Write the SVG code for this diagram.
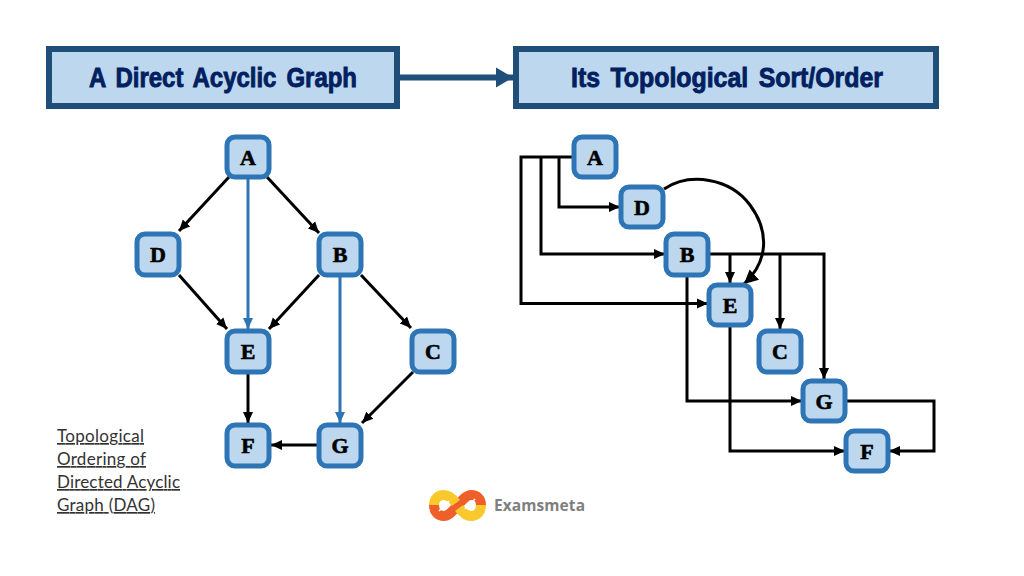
<svg xmlns="http://www.w3.org/2000/svg" width="1024" height="576" viewBox="0 0 1024 576">
<style>
.hbox{fill:#bdd7ee;stroke:#1f4e79;stroke-width:6}
.htext{font-family:"Liberation Sans",Arial,sans-serif;font-weight:700;font-size:28px;word-spacing:4px;fill:#002060;stroke:#002060;stroke-width:.9;text-anchor:middle}
.nbox{fill:#bdd7ee;stroke:#2e75b6;stroke-width:5}
.ntext{font-family:"Liberation Serif",serif;font-weight:700;font-size:22px;fill:#000;stroke:#000;stroke-width:.6;text-anchor:middle}
.k{fill:none;stroke:#000;stroke-width:3}
.b{fill:none;stroke:#2e75b6;stroke-width:3}
.cap{font-family:Lato,"Open Sans",sans-serif;font-size:17px;fill:#333;text-decoration:underline;text-decoration-thickness:1px}
</style>
<defs>
<marker id="mk" markerUnits="userSpaceOnUse" markerWidth="12" markerHeight="12" refX="11" refY="6" orient="auto"><path d="M0,1 L11,6 L0,11 Z" fill="#000"/></marker>
<marker id="mk2" markerUnits="userSpaceOnUse" markerWidth="16" markerHeight="16" refX="14" refY="8" orient="auto"><path d="M0,1 L14,8 L0,15 Z" fill="#000"/></marker>
<marker id="mb" markerUnits="userSpaceOnUse" markerWidth="12" markerHeight="12" refX="11" refY="6" orient="auto"><path d="M0,1 L11,6 L0,11 Z" fill="#2e75b6"/></marker>
<marker id="mh" markerUnits="userSpaceOnUse" markerWidth="18" markerHeight="22" refX="17" refY="11" orient="auto"><path d="M0,1 L17,11 L0,21 Z" fill="#1f4e79"/></marker>
</defs>
<g id="connectors">
<path d="M400,77.500H513" fill="none" stroke="#1f4e79" stroke-width="6" marker-end="url(#mh)"/>
<path class="k" d="M229,177L179,231" marker-end="url(#mk)"/>
<path class="k" d="M267,177L319,233" marker-end="url(#mk)"/>
<path class="b" d="M248,179V329" marker-end="url(#mb)"/>
<path class="k" d="M179,275L227,329" marker-end="url(#mk)"/>
<path class="k" d="M319,275L269,329" marker-end="url(#mk)"/>
<path class="b" d="M340,276V423" marker-end="url(#mb)"/>
<path class="k" d="M361,275L411,328" marker-end="url(#mk)"/>
<path class="k" d="M248,373V423" marker-end="url(#mk)"/>
<path class="k" d="M413,372L362,423" marker-end="url(#mk)"/>
<path class="k" d="M318,445H271" marker-end="url(#mk)"/>
<path class="k" d="M573,157H521V303.500H708" marker-end="url(#mk)"/>
<path class="k" d="M541,157V254H665" marker-end="url(#mk)"/>
<path class="k" d="M559,157V207H620" marker-end="url(#mk)"/>
<path class="k" d="M664,189C690,172 730,178 750,205C770,232 768,262 744,284" marker-end="url(#mk2)"/>
<path class="k" d="M709,254H824V379" marker-end="url(#mk)"/>
<path class="k" d="M730,254V283" marker-end="url(#mk)"/>
<path class="k" d="M780,254V329" marker-end="url(#mk)"/>
<path class="k" d="M687,276V401H802" marker-end="url(#mk)"/>
<path class="k" d="M730,327V451H845" marker-end="url(#mk)"/>
<path class="k" d="M846,401H934V451H889" marker-end="url(#mk)"/>
</g>
<g id="header-left"><rect class="hbox" x="49" y="49" width="348" height="57"/><text class="htext" x="223" y="87" textLength="268" lengthAdjust="spacingAndGlyphs">A Direct Acyclic Graph</text></g>
<g id="header-right"><rect class="hbox" x="516" y="49" width="420" height="57"/><text class="htext" x="727" y="87" textLength="312" lengthAdjust="spacingAndGlyphs">Its Topological Sort/Order</text></g>
<g id="L-A"><rect class="nbox" x="227" y="137" width="42" height="40" rx="8"/><text class="ntext" x="248" y="165">A</text></g>
<g id="L-D"><rect class="nbox" x="137" y="234" width="42" height="41" rx="8"/><text class="ntext" x="158" y="262">D</text></g>
<g id="L-B"><rect class="nbox" x="319" y="234" width="42" height="41" rx="8"/><text class="ntext" x="340" y="262">B</text></g>
<g id="L-E"><rect class="nbox" x="227" y="331" width="42" height="41" rx="8"/><text class="ntext" x="248" y="359">E</text></g>
<g id="L-C"><rect class="nbox" x="412" y="331" width="42" height="41" rx="8"/><text class="ntext" x="433" y="359">C</text></g>
<g id="L-F"><rect class="nbox" x="227" y="425" width="42" height="41" rx="8"/><text class="ntext" x="248" y="453">F</text></g>
<g id="L-G"><rect class="nbox" x="319" y="425" width="42" height="41" rx="8"/><text class="ntext" x="340" y="453">G</text></g>
<g id="R-A"><rect class="nbox" x="574" y="137" width="42" height="40" rx="8"/><text class="ntext" x="595" y="165">A</text></g>
<g id="R-D"><rect class="nbox" x="621" y="187" width="42" height="40" rx="8"/><text class="ntext" x="642" y="215">D</text></g>
<g id="R-B"><rect class="nbox" x="666" y="234" width="42" height="41" rx="8"/><text class="ntext" x="687" y="262">B</text></g>
<g id="R-E"><rect class="nbox" x="709" y="285" width="42" height="40" rx="8"/><text class="ntext" x="730" y="313">E</text></g>
<g id="R-C"><rect class="nbox" x="759" y="331" width="42" height="41" rx="8"/><text class="ntext" x="780" y="359">C</text></g>
<g id="R-G"><rect class="nbox" x="803" y="381" width="42" height="40" rx="8"/><text class="ntext" x="824" y="409">G</text></g>
<g id="R-F"><rect class="nbox" x="846" y="431" width="42" height="40" rx="8"/><text class="ntext" x="867" y="459">F</text></g>
<g id="caption">
<text class="cap" x="57" y="442" textLength="87">Topological</text>
<text class="cap" x="57" y="465" textLength="89">Ordering of</text>
<text class="cap" x="57" y="488" textLength="123">Directed Acyclic</text>
<text class="cap" x="57" y="511" textLength="98">Graph (DAG)</text>
</g>
<g id="logo">
<path d="M434,505C434,512 438,516 444,516C453,516 462,495 471,495C477,495 481,499 481,505" fill="none" stroke="#ee5f29" stroke-width="10"/>
<path d="M434,505C434,499 438,495 444,495C449,495 453,499 456,503" fill="none" stroke="#f9c82d" stroke-width="10"/>
<path d="M459,508C462,512 466,516 471,516C477,516 481,512 481,505" fill="none" stroke="#f9c82d" stroke-width="10"/>
<path d="M439,511L449,501M465,509L475,499" stroke="#fff" stroke-width="1.500" fill="none"/>
<text x="494" y="511" font-family="'Open Sans','Noto Sans',sans-serif" font-weight="700" font-size="15.500" fill="#7f7f7f" textLength="91">Examsmeta</text>
</g>
</svg>
